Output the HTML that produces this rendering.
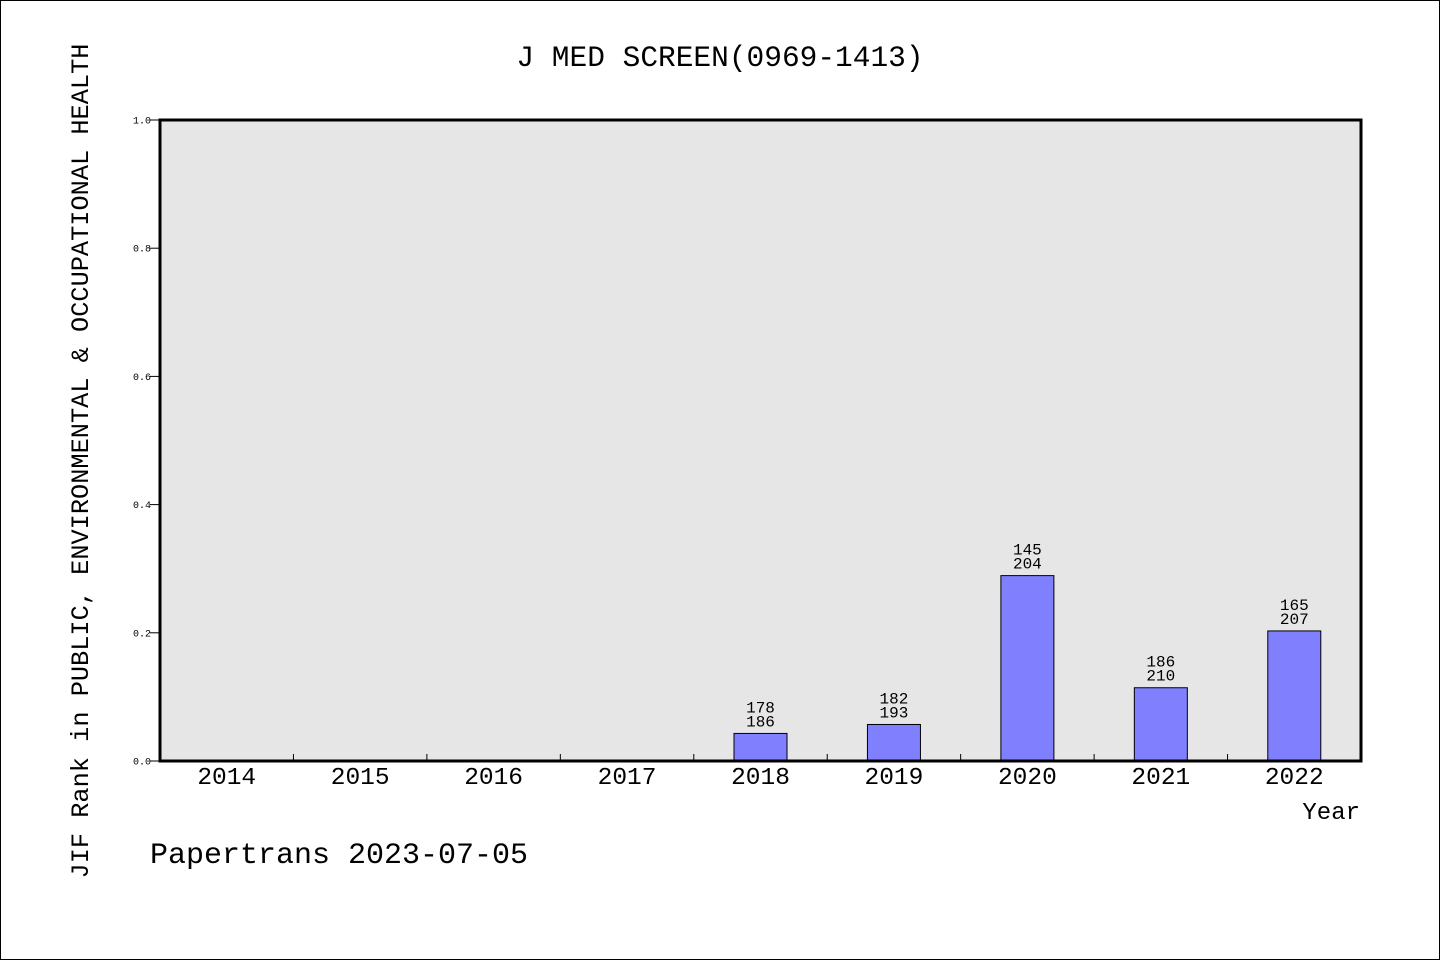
<!DOCTYPE html>
<html><head><meta charset="utf-8"><style>
html,body{margin:0;padding:0;background:#fff}
svg{display:block}
text{font-family:"Liberation Mono","DejaVu Sans Mono",monospace;fill:#000}
</style></head><body>
<svg id="chart" width="1440" height="960" viewBox="0 0 1440 960">
<rect x="0.5" y="0.5" width="1439" height="959" fill="#fff" stroke="#000"/>
<text x="720" y="66" font-size="29.5" text-anchor="middle">J MED SCREEN(0969-1413)</text>
<rect x="160" y="120" width="1201" height="641" fill="#e6e6e6"/>
<g id="marks"></g>
<rect x="160" y="120" width="1201" height="641" fill="none" stroke="#000" stroke-width="3"/>
<text x="1360" y="819" font-size="24" text-anchor="end">Year</text>
<text transform="translate(88,461) rotate(-90)" font-size="25.3" text-anchor="middle">JIF Rank in PUBLIC, ENVIRONMENTAL &amp; OCCUPATIONAL HEALTH</text>
<text x="150" y="863" font-size="30">Papertrans 2023-07-05</text>
</svg>
<script>
const years = ['2014','2015','2016','2017','2018','2019','2020','2021','2022'];
const ranks = [null,null,null,null,178,182,145,186,165];
const totals = [null,null,null,null,186,193,204,210,207];
const yTicks = [0,0.2,0.4,0.6,0.8,1.0];
const tickLabels = ['0.0','0.2','0.4','0.6','0.8','1.0'];

const X0=160,X1=1361,Y0=761,Y1=120;
const bw=(X1-X0)/years.length;
const xs=i=>X0+bw*(i+0.5);
const ys=v=>Y0-(Y0-Y1)*v;
const NS='http://www.w3.org/2000/svg';
const g=document.getElementById('marks');
function mk(t,a){const e=document.createElementNS(NS,t);for(const k in a)e.setAttribute(k,a[k]);return e;}

yTicks.forEach((v,i)=>{
  const l=mk('line',{x1:X0-10,x2:X0,y1:ys(v),y2:ys(v),stroke:'#000','stroke-width':1});
  
  
  g.appendChild(l);
  const t=mk('text',{x:X0-9,y:ys(v)+3.5,'font-size':10,'text-anchor':'end','font-family':'Liberation Sans, sans-serif'});
  t.textContent=tickLabels[i];
  
  
  g.appendChild(t);
});
years.forEach((y,i)=>{
  if(i>0){
    const l=mk('line',{x1:X0+bw*i,x2:X0+bw*i,y1:Y0,y2:Y0-7,stroke:'#000','stroke-width':1});
    
    
    g.appendChild(l);
  }
  const t=mk('text',{x:xs(i),y:784,'font-size':24.5,'text-anchor':'middle'});
  t.textContent=y;
  
  
  g.appendChild(t);
  if(ranks[i]!=null){
    const v=(totals[i]-ranks[i])/totals[i];
    const r=mk('rect',{x:xs(i)-26.5,y:ys(v),width:53,height:Y0-ys(v),fill:'#8080ff',stroke:'#000','stroke-width':1});
    
    
    g.appendChild(r);
    const a=mk('text',{x:xs(i),y:ys(v)-21,'font-size':16,'text-anchor':'middle'});
    a.textContent=ranks[i];
    
    
    g.appendChild(a);
    const b=mk('text',{x:xs(i),y:ys(v)-7,'font-size':16,'text-anchor':'middle'});
    b.textContent=totals[i];
    
    
    g.appendChild(b);
  }
});
</script>
</body></html>
